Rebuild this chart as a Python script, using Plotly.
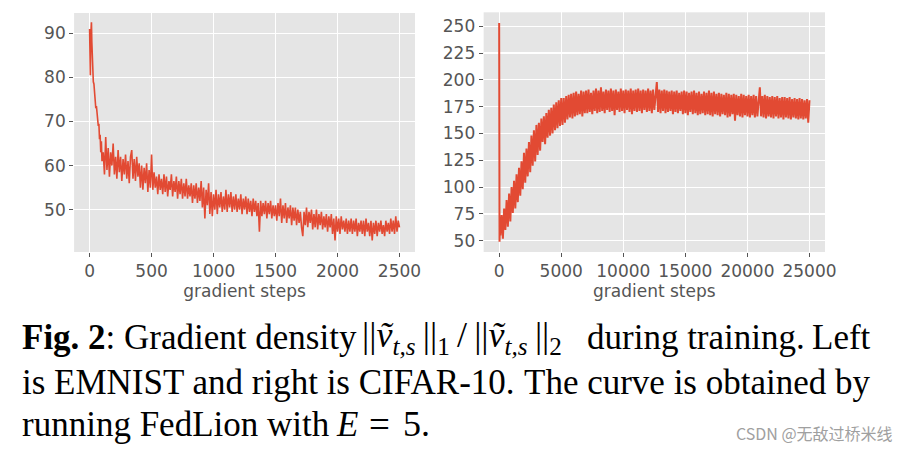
import plotly.graph_objects as go

# ---------------- data ----------------
# Left panel (EMNIST): dense early steps, then one value every 10 steps from 110
left_early_steps = [0, 3, 6, 9, 12, 15, 18, 21, 25, 30, 35, 40, 45, 50, 55, 60, 65, 70, 75, 80, 85, 90, 95, 100]
left_early_vals = [91, 86, 80.5, 89, 91, 92.5, 88, 84, 82, 79, 78.5, 76, 75.5, 73, 73.5, 71, 71.5, 69, 69.5, 66, 67, 63, 65.5, 61]
left_rest_vals = [
    63, 58, 66.5, 59, 64, 57.5, 63, 60, 65, 58,
    62, 57, 63.5, 58.5, 62, 56.5, 61.5, 58, 62.5, 57,
    61, 56, 62, 63.5, 57, 61.5, 56.5, 62, 57.5, 60.5,
    55, 60, 54.5, 59.5, 56, 60.5, 54, 59, 55, 62.5,
    54.5, 58.5, 55, 57.5, 53.5, 58, 54.5, 57, 53.5, 58,
    54, 57.5, 53, 56.5, 54.5, 58, 53, 56.5, 54, 57.5,
    52.5, 56.5, 53.5, 57, 52.5, 56, 53, 57, 52.5, 55.5,
    53, 56, 51.5, 55.5, 52.5, 56, 51.5, 55, 52, 56.5,
    50.5, 55, 48, 54.5, 51, 56, 49, 54, 48.5, 53.5,
    50, 54.5, 49, 53.5, 50.5, 54, 49.5, 53, 50, 54.5,
    49.5, 53.5, 50.5, 54, 49.5, 53, 50, 53.5, 49.5, 52.5,
    50, 53.5, 49, 52.5, 50, 53, 49, 52.5, 49.5, 52,
    48.5, 52.5, 49.5, 52, 48.5, 51.5, 45, 52, 48.5, 51.5,
    49, 52, 48, 51.5, 49, 52, 48, 51, 48.5, 51,
    47.5, 51.5, 48.5, 52.5, 47, 51, 48, 51.5, 47, 50.5,
    48, 51, 46.5, 50.5, 47.5, 50.5, 46.5, 50, 47, 49.5,
    46, 44, 49.5, 46.5, 50.5, 46, 49.5, 47, 50, 45.5,
    49, 46, 50, 45.5, 49, 46.5, 49.5, 45.5, 48.5, 46,
    49, 45, 48.5, 46, 49, 44.5, 48, 43, 48.5, 45,
    48, 44.5, 48.5, 45.5, 47.5, 45, 48, 44.5, 47.5, 45,
    48, 44.5, 47.5, 45, 48, 44, 47, 45, 47.5, 44.5,
    47.5, 44, 48, 45, 47, 44, 47.5, 43, 47, 44.5,
    47.5, 44, 47, 45, 47.5, 44.5, 46.5, 44, 47.5, 45,
    47, 44.5, 48, 45, 47.5, 44.5, 48.5, 45, 47.5, 46,
]
left_rest_start, left_rest_step = 110, 10

# Right panel (CIFAR-10): early spike, then one value every 100 steps from 100
right_early_steps = [0, 30, 60]
right_early_vals = [253, 49, 68]
right_rest_vals = [
    55, 74, 52, 80, 60, 88, 63, 94, 68, 100,
    76, 106, 80, 112, 86, 118, 92, 124, 98, 132,
    104, 136, 110, 142, 114, 148, 120, 153, 124, 158,
    130, 160, 134, 164, 142, 166, 140, 169, 146, 172,
    148, 174, 150, 177, 153, 179, 155, 181, 157, 183,
    158, 183, 160, 185, 163, 186, 165, 187, 164, 188,
    166, 189, 167, 187, 168, 190, 166, 189, 169, 190,
    169, 191, 170, 188, 168, 190, 171, 192, 169, 190,
    170, 193, 171, 189, 169, 191, 172, 190, 170, 192,
    171, 190, 167, 191, 172, 189, 170, 192, 171, 190,
    169, 191, 172, 190, 170, 192, 168, 190, 171, 191,
    170, 192, 171, 190, 169, 191, 172, 190, 170, 192,
    171, 190, 169, 191, 172, 190, 198, 170, 191, 169,
    190, 171, 191, 169, 190, 170, 189, 171, 190, 168,
    189, 170, 190, 169, 188, 171, 189, 168, 190, 169,
    189, 167, 188, 170, 189, 168, 190, 169, 188, 167,
    189, 168, 187, 169, 189, 167, 188, 168, 190, 167,
    188, 166, 189, 168, 187, 167, 188, 166, 187, 168,
    186, 167, 188, 165, 187, 166, 186, 168, 187, 162,
    186, 167, 185, 166, 187, 165, 186, 167, 185, 166,
    186, 165, 185, 167, 186, 165, 185, 166, 184, 193,
    166, 185, 165, 186, 164, 185, 166, 184, 165, 185,
    164, 184, 166, 185, 164, 183, 165, 184, 163, 184,
    165, 183, 164, 184, 163, 182, 165, 183, 164, 182,
    163, 183, 164, 182, 163, 181, 164, 182, 160, 181,
]
right_rest_start, right_rest_step = 100, 100

left_xticks = [0, 500, 1000, 1500, 2000, 2500]
left_yticks = [50, 60, 70, 80, 90]
right_xticks = [0, 5000, 10000, 15000, 20000, 25000]
right_yticks = [50, 75, 100, 125, 150, 175, 200, 225, 250]

x_title = "gradient steps"
watermark = "CSDN @无敌过桥米线"

# ---------------- build ----------------
left_x = left_early_steps + [left_rest_start + left_rest_step * i for i in range(len(left_rest_vals))]
left_y = left_early_vals + left_rest_vals
right_x = right_early_steps + [right_rest_start + right_rest_step * i for i in range(len(right_rest_vals))]
right_y = right_early_vals + right_rest_vals

LINE = "#E24A33"
BG = "#E5E5E5"
TXT = "#555555"
W, H = 920, 452

fig = go.Figure()
fig.add_trace(go.Scatter(x=left_x, y=left_y, mode="lines", line=dict(color=LINE, width=1.6),
                         xaxis="x", yaxis="y", showlegend=False, hoverinfo="skip"))
fig.add_trace(go.Scatter(x=right_x, y=right_y, mode="lines", line=dict(color=LINE, width=2),
                         xaxis="x2", yaxis="y2", showlegend=False, hoverinfo="skip"))

axis_common = dict(showgrid=True, gridcolor="white", gridwidth=1.2, zeroline=False,
                   ticks="outside", ticklen=4, tickcolor=TXT, tickwidth=1,
                   tickfont=dict(family="DejaVu Sans", size=17, color=TXT),
                   showline=False, fixedrange=True)
title_font = dict(family="DejaVu Sans", size=17, color=TXT)

fig.update_layout(
    width=W, height=H, margin=dict(l=0, r=0, t=0, b=0),
    paper_bgcolor="white", plot_bgcolor=BG,
    xaxis=dict(domain=[75 / W, 420 / W], range=[-125, 2625], tickvals=left_xticks,
               ticktext=[str(v) for v in left_xticks],
               title=dict(text=x_title, font=title_font, standoff=0),
               anchor="y", **axis_common),
    yaxis=dict(domain=[1 - 252 / H, 1 - 13 / H], range=[40.4, 94.6], tickvals=left_yticks,
               ticktext=[str(v) for v in left_yticks], anchor="x", **axis_common),
    xaxis2=dict(domain=[489.5 / W, 835 / W], range=[-1250, 26250], tickvals=right_xticks,
                ticktext=[str(v) for v in right_xticks],
                title=dict(text=x_title, font=title_font, standoff=0),
                anchor="y2", **axis_common),
    yaxis2=dict(domain=[1 - 252 / H, 1 - 12.3 / H], range=[39.5, 263], tickvals=right_yticks,
                ticktext=[str(v) for v in right_yticks], anchor="x2", **axis_common),
)

CAP = dict(family="Liberation Serif", size=35, color="black")


def cap(text, x, y, anchor="left", size=35):
    fig.add_annotation(text=text, xref="paper", yref="paper", x=x / W, y=1 - y / H,
                       xanchor=anchor, yanchor="middle", showarrow=False,
                       font=dict(CAP, size=size))


y1, y2, y3 = 337, 382, 424
cap("<b>Fig. 2</b>: Gradient density", 20, y1)
cap("||<i>ṽ</i><sub><i>t,s</i></sub>\u2009||<sub>1</sub>\u2009/\u2009||<i>ṽ</i><sub><i>t,s</i></sub>\u2009||<sub>2</sub>",
    364, y1, "left", size=36)
cap("during training.", 592, y1)
cap("Left", 884, y1, "right")
cap("is EMNIST and right is CIFAR-10.", 20, y2)
cap("The curve is obtained by", 884, y2, "right")
cap("running FedLion with", 20, y3)
cap("<i>E</i>", 338, y3)
cap("=", 384, y3, "center", size=37)
cap("5.", 406, y3, "left", size=36)

fig.add_annotation(text=watermark, xref="paper", yref="paper", x=906 / W, y=1 - 433 / H,
                   xanchor="right", yanchor="middle", showarrow=False,
                   font=dict(family="Noto Sans CJK SC", size=16, color="#A0A0A0"))

fig.write_html(
    "out.html",
    config={"displayModeBar": False, "staticPlot": True},
    post_script="document.body.style.margin='0';document.body.style.overflow='hidden';"
                "document.documentElement.style.overflow='hidden';",
)
